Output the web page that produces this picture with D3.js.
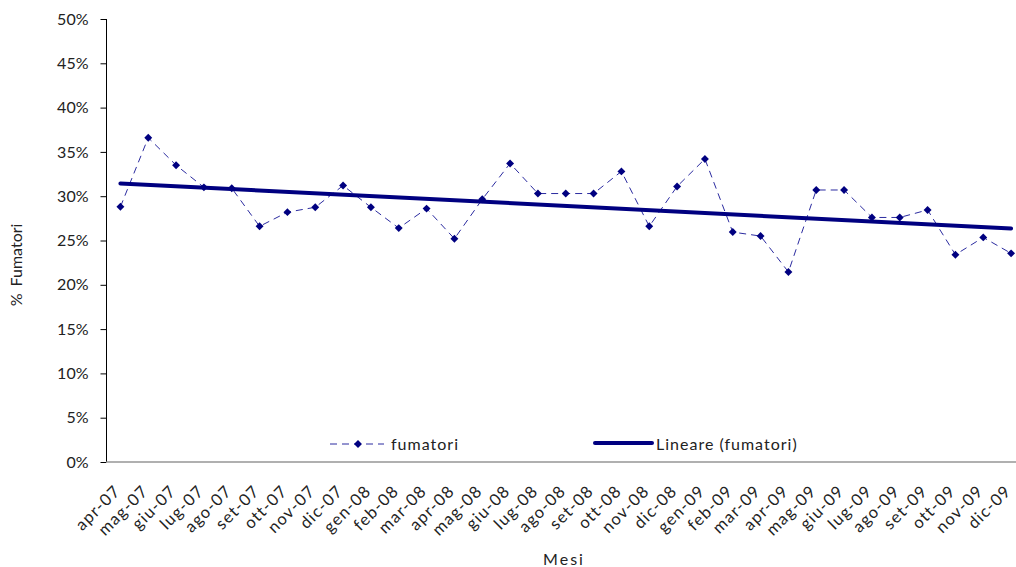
<!DOCTYPE html>
<html>
<head>
<meta charset="utf-8">
<script src="https://cdn.jsdelivr.net/npm/d3@7"></script>
<style>
  body { margin: 0; background: #fff; }
  text { font-family: Lato, "Noto Sans", sans-serif; fill: #222; }
</style>
</head>
<body>
<div id="chart"></div>
<script>
// months on the x axis
let mesi = [
  "apr-07", "mag-07", "giu-07", "lug-07", "ago-07", "set-07", "ott-07", "nov-07", "dic-07",
  "gen-08", "feb-08", "mar-08", "apr-08", "mag-08", "giu-08", "lug-08", "ago-08", "set-08",
  "ott-08", "nov-08", "dic-08", "gen-09", "feb-09", "mar-09", "apr-09", "mag-09", "giu-09",
  "lug-09", "ago-09", "set-09", "ott-09", "nov-09", "dic-09"
];
// % fumatori per month
let fumatori = [
  28.8, 36.6, 33.5, 31.0, 30.9, 26.6, 28.2, 28.75, 31.2,
  28.75, 26.4, 28.6, 25.2, 29.65, 33.7, 30.3, 30.3, 30.3,
  32.8, 26.6, 31.1, 34.2, 25.95, 25.5, 21.45, 30.7, 30.7,
  27.6, 27.6, 28.45, 23.4, 25.35, 23.55
];
let yTicks = [0, 5, 10, 15, 20, 25, 30, 35, 40, 45, 50];

let W = 1016,
  H = 567;
var margin = { top: 19, left: 106.5, bottom: 105 },
  plotRight = 1025,
  height = H - margin.top - margin.bottom;

let svg = d3
  .select("#chart")
  .append("svg")
  .attr("width", W)
  .attr("height", H);

var x = d3
  .scaleBand()
  .domain(mesi)
  .range([margin.left, plotRight]);
var y = d3
  .scaleLinear()
  .domain([0, 50])
  .range([margin.top + height, margin.top]);

let cx = d => x(d) + x.bandwidth() / 2;

// Y axis
let yAxis = svg
  .append("g")
  .attr("transform", "translate(" + margin.left + ",0)")
  .call(
    d3
      .axisLeft(y)
      .tickValues(yTicks)
      .tickSize(6)
      .tickPadding(12)
      .tickFormat(d => d + "%")
  );
yAxis.select(".domain").attr("stroke", "#000").attr("d", "M0," + y(50) + "V" + y(0));
yAxis.selectAll(".tick line").attr("stroke", "#000");
yAxis
  .selectAll(".tick text")
  .style("font-size", "16px")
  .attr("fill", "#222");

// X axis
let xAxis = svg
  .append("g")
  .attr("transform", "translate(0," + y(0) + ")")
  .call(d3.axisBottom(x).tickSize(0));
xAxis
  .select(".domain")
  .attr("stroke", "#b0b0b0")
  .attr("stroke-width", 2)
  .attr("d", "M" + margin.left + ",0H" + W);
xAxis
  .selectAll(".tick text")
  .style("font-size", "16.5px")
  .style("letter-spacing", "1.2px")
  .attr("fill", "#222")
  .attr("text-anchor", "end")
  .attr("dy", "0.35em")
  .attr("transform", "translate(-3,26) rotate(-45)")
  .attr("y", 0)
  .attr("x", 0);

// axis titles
svg
  .append("text")
  .attr("text-anchor", "middle")
  .attr("transform", "translate(22,265) rotate(-90)")
  .style("font-size", "16px")
  .style("word-spacing", "3px")
  .text("% Fumatori");
svg
  .append("text")
  .attr("text-anchor", "middle")
  .attr("x", 564)
  .attr("y", 565)
  .style("font-size", "16px")
  .style("letter-spacing", "2px")
  .text("Mesi");

// linear trend (least squares)
let n = fumatori.length,
  xm = d3.mean(fumatori, (d, i) => i),
  ym = d3.mean(fumatori),
  slope =
    d3.sum(fumatori, (d, i) => (i - xm) * (d - ym)) /
    d3.sum(fumatori, (d, i) => (i - xm) * (i - xm)),
  icpt = ym - slope * xm;

// data series
let line = d3
  .line()
  .x((d, i) => cx(mesi[i]))
  .y(d => y(d));
svg
  .append("path")
  .datum(fumatori)
  .attr("fill", "none")
  .attr("stroke", "#2b2ba0")
  .attr("stroke-width", 1)
  .attr("stroke-dasharray", "7,5")
  .attr("d", line);

let diamond = d3.symbol().type(d3.symbolDiamond2).size(40);
svg
  .selectAll("marker-pt")
  .data(fumatori)
  .enter()
  .append("path")
  .attr("d", diamond)
  .attr("fill", "#000080")
  .attr("transform", (d, i) => "translate(" + cx(mesi[i]) + "," + y(d) + ")");

svg
  .append("line")
  .attr("x1", cx(mesi[0]))
  .attr("y1", y(icpt))
  .attr("x2", cx(mesi[n - 1]))
  .attr("y2", y(icpt + slope * (n - 1)))
  .attr("stroke", "#000080")
  .attr("stroke-width", 4)
  .attr("stroke-linecap", "round");

// legend
let lg = svg.append("g");
lg.append("line")
  .attr("x1", 330)
  .attr("x2", 384)
  .attr("y1", 444)
  .attr("y2", 444)
  .attr("stroke", "#2b2ba0")
  .attr("stroke-dasharray", "7,5");
lg.append("path")
  .attr("d", diamond)
  .attr("fill", "#000080")
  .attr("transform", "translate(358,444)");
lg.append("text")
  .attr("x", 391)
  .attr("y", 444)
  .attr("dy", "0.35em")
  .style("font-size", "16px")
  .style("letter-spacing", "1px")
  .text("fumatori");
lg.append("line")
  .attr("x1", 595)
  .attr("x2", 652)
  .attr("y1", 443)
  .attr("y2", 443)
  .attr("stroke", "#000080")
  .attr("stroke-width", 4)
  .attr("stroke-linecap", "round");
lg.append("text")
  .attr("x", 656)
  .attr("y", 444)
  .attr("dy", "0.35em")
  .style("font-size", "16px")
  .style("letter-spacing", "1px")
  .text("Lineare (fumatori)");
</script>
</body>
</html>
